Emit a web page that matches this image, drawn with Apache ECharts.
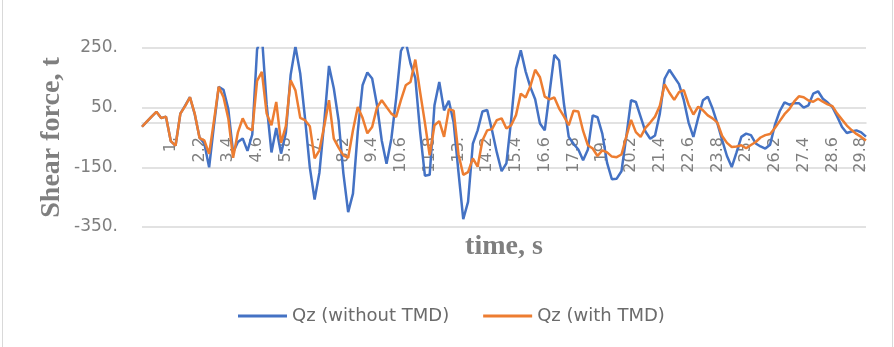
<!DOCTYPE html>
<html><head><meta charset="utf-8">
<script src="https://cdn.jsdelivr.net/npm/echarts@6/dist/echarts.min.js"></script>
<style>
html,body{margin:0;padding:0;background:#fff;}
#frame{position:absolute;left:2px;top:-2px;width:891px;height:352px;border:1px solid #d9d9d9;box-sizing:border-box;}
#chart{position:absolute;left:0;top:0;width:894px;height:347px;}
</style></head><body>
<div id="frame"></div><div id="chart"></div>
<script>
const timeCategories = [-0.2,0,0.2,0.4,0.6,0.8,1,1.2,1.4,1.6,1.8,2,2.2,2.4,2.6,2.8,3,3.2,3.4,3.6,3.8,4,4.2,4.4,4.6,4.8,5,5.2,5.4,5.6,5.8,6,6.2,6.4,6.6,6.8,7,7.2,7.4,7.6,7.8,8,8.2,8.4,8.6,8.8,9,9.2,9.4,9.6,9.8,10,10.2,10.4,10.6,10.8,11,11.2,11.4,11.6,11.8,12,12.2,12.4,12.6,12.8,13,13.2,13.4,13.6,13.8,14,14.2,14.4,14.6,14.8,15,15.2,15.4,15.6,15.8,16,16.2,16.4,16.6,16.8,17,17.2,17.4,17.6,17.8,18,18.2,18.4,18.6,18.8,19,19.2,19.4,19.6,19.8,20,20.2,20.4,20.6,20.8,21,21.2,21.4,21.6,21.8,22,22.2,22.4,22.6,22.8,23,23.2,23.4,23.6,23.8,24,24.2,24.4,24.6,24.8,25,25.2,25.4,25.6,25.8,26,26.2,26.4,26.6,26.8,27,27.2,27.4,27.6,27.8,28,28.2,28.4,28.6,28.8,29,29.2,29.4,29.6,29.8,30];

const qzWithoutTMD = [
-14,3,20,36,15,20,-62,-77,30,57,
85,28,-50,-70,-150,-10,120,110,45,-100,
-65,-53,-95,-40,245,293,60,-100,-18,-104,
-35,160,255,165,15,-150,-258,-168,0,190,
115,8,-170,-300,-238,-30,125,168,148,60,
-60,-138,-55,80,240,272,198,150,-30,-178,
-175,58,136,41,73,0,-165,-324,-266,-71,
-26,37,42,-26,-100,-163,-137,10,181,242,
172,119,78,-3,-26,100,227,208,63,-48,
-71,-90,-126,-90,24,18,-37,-135,-190,-188,
-163,-48,75,69,19,-30,-54,-43,30,147,
177,153,129,75,0,-48,16,75,87,47,
-3,-59,-112,-149,-100,-48,-37,-42,-70,-80,
-87,-74,-8,38,68,60,65,65,50,58,
97,105,80,67,52,20,-15,-35,-30,-26,
-33,-47];

const qzWithTMD = [
-14,3,20,36,15,20,-62,-77,30,55,
85,30,-52,-60,-105,5,120,85,14,-118,
-33,14,-18,-26,140,170,30,-9,69,-68,
-12,142,108,16,8,-12,-120,-93,-12,75,
-54,-84,-110,-118,-26,52,16,-36,-15,50,
75,52,30,19,75,125,136,211,103,0,
-110,-9,5,-48,45,40,-106,-175,-166,-120,
-148,-60,-26,-22,8,14,-20,-9,25,97,
84,122,177,152,87,78,84,47,21,-9,
40,37,-28,-76,-87,-112,-93,-100,-114,-116,
-107,-48,9,-32,-48,-18,0,20,56,128,
100,76,102,109,60,27,53,41,24,14,
0,-45,-68,-82,-80,-76,-86,-75,-65,-50,
-42,-38,-18,5,28,45,70,88,85,74,
70,80,70,61,55,30,10,-10,-25,-38,
-48,-60];

const seriesNames = ['Qz (without TMD)', 'Qz (with TMD)'];
const yMin = -350, yMax = 250, yStep = 200;
const labelStart = 6, labelEvery = 6;

const chart = echarts.init(document.getElementById('chart'), null, {renderer: 'canvas'});
const gray = '#7f7f7f';
chart.setOption({
  animation: false,
  grid: {left: 142, right: 28, top: 48, height: 179, containLabel: false, outerBoundsMode: 'none'},
  legend: {
    data: seriesNames,
    left: 233,
    top: 302,
    icon: 'rect',
    itemWidth: 49,
    itemHeight: 3,
    itemGap: 34,
    textStyle: {color: '#6b6b6b', fontFamily: 'DejaVu Sans', fontSize: 18}
  },
  xAxis: {
    type: 'category',
    data: timeCategories,
    boundaryGap: false,
    position: 'bottom',
    offset: -104,
    name: 'time, s',
    nameLocation: 'middle',
    nameGap: 110,
    nameMoveOverlap: false,
    nameTextStyle: {color: gray, fontFamily: 'Liberation Serif', fontWeight: 'bold', fontSize: 28},
    axisLine: {onZero: false, lineStyle: {color: '#d9d9d9', width: 1.5}},
    axisTick: {show: false},
    axisLabel: {
      rotate: 90,
      margin: 14,
      color: gray,
      fontFamily: 'DejaVu Sans',
      fontSize: 16,
      interval: function (i) { return i >= labelStart && (i - labelStart) % labelEvery === 0; },
      formatter: function (v) {
        const n = Math.round(parseFloat(v) * 10) / 10;
        return Number.isInteger(n) ? n + '.' : n.toFixed(1);
      }
    },
    splitLine: {show: false}
  },
  yAxis: {
    type: 'value',
    min: yMin, max: yMax, interval: yStep,
    name: 'Shear force, t',
    nameLocation: 'middle',
    nameRotate: 90,
    nameGap: 76,
    nameMoveOverlap: false,
    nameTextStyle: {color: gray, fontFamily: 'Liberation Serif', fontWeight: 'bold', fontSize: 28},
    axisLine: {show: false},
    axisTick: {show: false},
    axisLabel: {margin: 24, color: gray, fontFamily: 'DejaVu Sans', fontSize: 17,
      formatter: function (v) { return v + '.'; }},
    splitLine: {lineStyle: {color: '#d9d9d9', width: 1.5}}
  },
  series: [
    {name: seriesNames[0], type: 'line', data: qzWithoutTMD, symbol: 'none',
     lineStyle: {color: '#4472C4', width: 2.5}, itemStyle: {color: '#4472C4'}},
    {name: seriesNames[1], type: 'line', data: qzWithTMD, symbol: 'none',
     lineStyle: {color: '#ED7D31', width: 2.5}, itemStyle: {color: '#ED7D31'}}
  ]
});
</script>
</body></html>
